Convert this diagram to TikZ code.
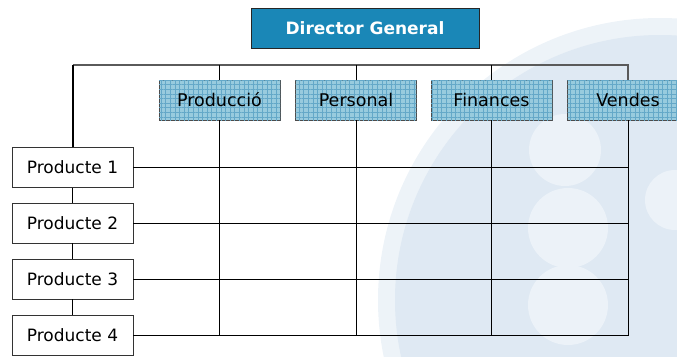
\documentclass[tikz,border=0pt]{standalone}
\usepackage{fontspec}
\setmainfont{DejaVu Sans}
\usetikzlibrary{patterns.meta}
\definecolor{dirblue}{RGB}{26,135,183}
\definecolor{deptfill}{RGB}{152,203,222}
\definecolor{deptgrid}{RGB}{100,168,200}
\definecolor{bgblue}{RGB}{223,233,243}
\definecolor{bgmid}{RGB}{237,243,248}
\definecolor{bglight}{RGB}{236,242,248}
\definecolor{topline}{RGB}{90,90,90}
\tikzset{
  dirbox/.style={draw=black!85, fill=dirblue, text=white, font=\fontsize{17}{20}\selectfont\bfseries,
    minimum width=228, minimum height=40, inner sep=0pt},
  deptbox/.style={draw=black!70, fill=deptfill, font=\fontsize{17.5}{20}\selectfont,
    minimum width=121, minimum height=40, inner sep=0pt,
    postaction={pattern={Lines[distance=4.6pt,angle=0,line width=0.45pt]}, pattern color=deptgrid},
    postaction={pattern={Lines[distance=4.6pt,angle=90,line width=0.45pt]}, pattern color=deptgrid}},
  prodbox/.style={draw=black!80, fill=white, font=\fontsize{17}{20}\selectfont,
    minimum width=121, minimum height=40, inner sep=0pt},
  gridline/.style={draw=black, line width=1pt},
}
\begin{document}
\begin{tikzpicture}[x=1pt,y=-1pt]
\useasboundingbox (0,0) rectangle (677,356);
% background watermark
\begin{scope}
\clip (0,0) rectangle (677,356);
\fill[bgmid] (660,300) circle (282);
\fill[bgblue] (660,300) circle (265);
\fill[bglight] (565,150) circle (36);
\fill[bglight] (568,228) circle (40);
\fill[bglight] (568,305) circle (40);
\fill[bglight] (675,200) circle (30);
\end{scope}
% nodes
\node[dirbox] (dg) at (365,28) {Director General};
\node[deptbox] (d1) at (219.5,100) {Producció};
\node[deptbox] (d2) at (356,100) {Personal};
\node[deptbox] (d3) at (491.5,100) {Finances};
\node[deptbox] (d4) at (628,100) {Vendes};
\node[prodbox] (p1) at (72.5,167.5) {Producte 1};
\node[prodbox] (p2) at (72.5,223) {Producte 2};
\node[prodbox] (p3) at (72.5,279) {Producte 3};
\node[prodbox] (p4) at (72.5,335.5) {Producte 4};
% top connector
\coordinate (tl) at (72.5,65);
\draw[topline, line width=1.3pt] (tl) -| (d4.north);
\foreach \d in {d1,d2,d3} \draw[gridline] (\d.north) -- (\d.north |- tl);
\draw[black, line width=2pt] (p1.north) -- (tl);
% product chain
\draw[gridline] (p1.south) -- (p2.north);
\draw[gridline] (p2.south) -- (p3.north);
\draw[gridline] (p3.south) -- (p4.north);
% matrix grid
\foreach \d in {d1,d2,d3,d4} \draw[gridline] (\d.south) -- (\d.south |- p4.east);
\foreach \p in {p1,p2,p3,p4} \draw[gridline] (\p.east) -- (\p.east -| d4.south);
\end{tikzpicture}
\end{document}
